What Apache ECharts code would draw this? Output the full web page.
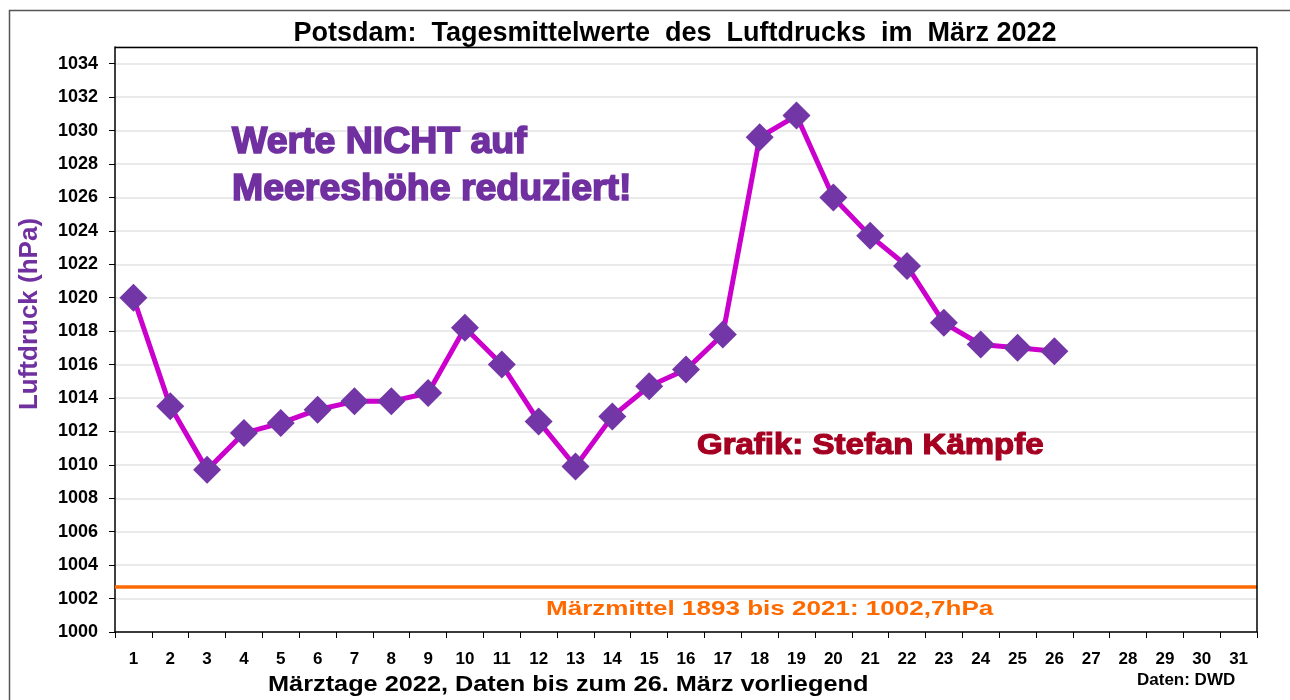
<!DOCTYPE html>
<html>
<head>
<meta charset="utf-8">
<script src="https://cdn.jsdelivr.net/npm/echarts@6/dist/echarts.min.js"></script>
<style>
html,body{margin:0;padding:0;background:#fff;}
#chart{width:1290px;height:700px;}
</style>
</head>
<body>
<div id="chart"></div>
<script>
const days = ['1','2','3','4','5','6','7','8','9','10','11','12','13','14','15','16','17','18','19','20','21','22','23','24','25','26','27','28','29','30','31'];
const pressure = [1020.0,1013.5,1009.7,1011.9,1012.5,1013.3,1013.8,1013.8,1014.3,1018.2,1016.0,1012.6,1009.9,1012.9,1014.7,1015.7,1017.8,1029.6,1030.9,1026.0,1023.7,1021.9,1018.5,1017.2,1017.0,1016.8];
const marchMean = 1002.7;
const yMin = 1000, yMax = 1035, yStep = 2;

const sans = '"Liberation Sans", Arial, sans-serif';

const chart = echarts.init(document.getElementById('chart'));
chart.setOption({
  animation: false,
  backgroundColor: '#fff',
  title: {
    text: 'Potsdam:  Tagesmittelwerte  des  Luftdrucks  im  März 2022',
    left: 670, textAlign: 'center', top: 15,
    textStyle: {fontFamily: sans, fontWeight: 'bold', fontSize: 27, color: '#000'}
  },
  grid: {left: 115, right: 33, top: 47, bottom: 68, outerBoundsMode: 'none', containLabel: false},
  xAxis: {
    type: 'category', data: days, boundaryGap: true,
    axisLine: {lineStyle: {color: '#000', width: 1.5}},
    axisTick: {show: true, inside: false, length: 6, alignWithLabel: false, lineStyle: {color: '#000'}},
    axisLabel: {margin: 19, fontFamily: sans, fontWeight: 'bold', fontSize: 17, color: '#000', interval: 0},
    splitLine: {show: false}
  },
  yAxis: {
    type: 'value', min: yMin, max: yMax, interval: yStep,
    axisLine: {show: true, lineStyle: {color: '#000', width: 1.5}},
    axisTick: {show: true, length: 6, lineStyle: {color: '#000'}},
    axisLabel: {margin: 17, fontFamily: sans, fontWeight: 'bold', fontSize: 18, color: '#000', showMaxLabel: false, formatter: v => String(v)},
    splitLine: {show: true, lineStyle: {color: '#e3e3e3', width: 1.5}}
  },
  series: [{
    type: 'line', data: pressure,
    symbol: 'diamond', symbolSize: 28,
    lineStyle: {color: '#CC00CC', width: 5},
    itemStyle: {color: '#7336A6'},
    z: 5,
    markLine: {
      silent: true, symbol: 'none',
      label: {show: false},
      lineStyle: {color: '#FF6A00', width: 3.5, type: 'solid'},
      data: [{yAxis: marchMean}]
    }
  }],
  graphic: [
    {type: 'rect', left: 7, top: 8, shape: {width: 1300, height: 720}, style: {fill: 'none', stroke: '#555', lineWidth: 1.5}, silent: true},
    {type: 'line', z: 100, shape: {x1: 1257, y1: 47, x2: 1257, y2: 632}, style: {stroke: '#000', lineWidth: 1.5}},
    {type: 'line', z: 100, shape: {x1: 115, y1: 47.5, x2: 1257, y2: 47.5}, style: {stroke: '#000', lineWidth: 1.5}},
    {type: 'text', z: 100, x: 30, y: 314, rotation: Math.PI / 2, style: {text: 'Luftdruck (hPa)', fontFamily: sans, fontWeight: 'bold', fontSize: 26, fill: '#7030A0', align: 'center', verticalAlign: 'middle'}},
    {type: 'text', z: 100, x: 232, y: 143, scaleX: 1.04, style: {text: 'Werte NICHT auf', fontFamily: sans, fontWeight: 'bold', fontSize: 36, fill: '#7030A0', stroke: '#7030A0', lineWidth: 1.6, verticalAlign: 'middle'}},
    {type: 'text', z: 100, x: 232, y: 190, scaleX: 1.04, style: {text: 'Meereshöhe reduziert!', fontFamily: sans, fontWeight: 'bold', fontSize: 36, fill: '#7030A0', stroke: '#7030A0', lineWidth: 1.6, verticalAlign: 'middle'}},
    {type: 'text', z: 100, x: 697, y: 446, scaleX: 1.1, style: {text: 'Grafik: Stefan Kämpfe', fontFamily: sans, fontWeight: 'bold', fontSize: 30, fill: '#A50021', stroke: '#A50021', lineWidth: 1.2, verticalAlign: 'middle'}},
    {type: 'text', z: 100, x: 546, y: 609, scaleX: 1.24, style: {text: 'Märzmittel 1893 bis 2021: 1002,7hPa', fontFamily: sans, fontWeight: 'bold', fontSize: 21, fill: '#FF6A00', verticalAlign: 'middle'}},
    {type: 'text', z: 100, x: 268, y: 685, scaleX: 1.15, style: {text: 'Märztage 2022, Daten bis zum 26. März vorliegend', fontFamily: sans, fontWeight: 'bold', fontSize: 22, fill: '#000', verticalAlign: 'middle'}},
    {type: 'text', z: 100, x: 1137, y: 680, style: {text: 'Daten: DWD', fontFamily: sans, fontWeight: 'bold', fontSize: 17, fill: '#000', verticalAlign: 'middle'}}
  ]
});
</script>
</body>
</html>
